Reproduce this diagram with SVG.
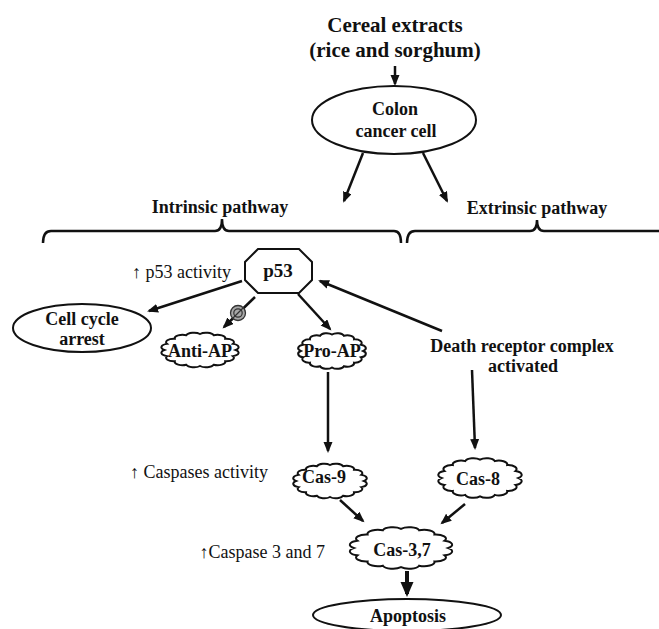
<svg xmlns="http://www.w3.org/2000/svg" width="659" height="629" viewBox="0 0 659 629">
<style>
text{font-family:"Liberation Serif","Times New Roman",serif;fill:#111}
.b{font-weight:bold;font-size:18px;text-anchor:middle}
.n{font-size:18px}
.shape{fill:#fff;stroke:#111;stroke-width:2}
.c{fill:none;stroke:#111;stroke-width:2.5}
.brace{fill:none;stroke:#111;stroke-width:2.5}
</style>
<defs>
<marker id="ah" markerUnits="userSpaceOnUse" markerWidth="12" markerHeight="10" refX="9" refY="4.5" orient="auto">
<path d="M0,0 L11,4.5 L0,9 Z" fill="#111"/>
</marker>
<marker id="ahb" markerUnits="userSpaceOnUse" markerWidth="16" markerHeight="14" refX="12" refY="6.5" orient="auto">
<path d="M0,0 L15,6.5 L0,13 Z" fill="#111"/>
</marker>
<path id="cloud" vector-effect="non-scaling-stroke" d="M50,0 A11,11 0 0 1 46.19,19.13 A11,11 0 0 1 35.36,35.36 A11,11 0 0 1 19.13,46.19 A11,11 0 0 1 0,50 A11,11 0 0 1 -19.13,46.19 A11,11 0 0 1 -35.36,35.36 A11,11 0 0 1 -46.19,19.13 A11,11 0 0 1 -50,0 A11,11 0 0 1 -46.19,-19.13 A11,11 0 0 1 -35.36,-35.36 A11,11 0 0 1 -19.13,-46.19 A11,11 0 0 1 0,-50 A11,11 0 0 1 19.13,-46.19 A11,11 0 0 1 35.36,-35.36 A11,11 0 0 1 46.19,-19.13 A11,11 0 0 1 50,0 Z"/>
</defs>

<g id="title">
<text class="b" x="395" y="32" style="font-size:21px">Cereal extracts</text>
<text class="b" x="395" y="57" style="font-size:21px">(rice and sorghum)</text>
</g>

<g id="colon">
<ellipse class="shape" cx="394" cy="120" rx="82" ry="34"/>
<text class="b" x="395" y="115">Colon</text>
<text class="b" x="396" y="137">cancer cell</text>
</g>

<g id="intrinsic">
<path class="brace" d="M43,243 Q43,231 51,231 L215,231 Q222,231 222,219 Q222,231 229,231 L394,231 Q401,231 401,243"/>
<text class="b" x="220" y="213">Intrinsic pathway</text>
</g>

<g id="extrinsic">
<path class="brace" d="M407,243 Q407,231 415,231 L530,231 Q537,231 537,220 Q537,231 544,231 L660,231"/>
<text class="b" x="537" y="214">Extrinsic pathway</text>
</g>

<g id="p53">
<polygon class="shape" points="258,249 299,249 312,262 312,280 299,293 258,293 245,280 245,262"/>
<text class="b" x="278" y="277" style="font-size:19px">p53</text>
</g>
<text class="n" x="132" y="278">↑ p53 activity</text>

<g id="cellcycle">
<ellipse class="shape" cx="82" cy="328" rx="69" ry="24"/>
<text class="b" x="82" y="325">Cell cycle</text>
<text class="b" x="82" y="345">arrest</text>
</g>

<g id="antiap">
<use href="#cloud" class="shape" transform="translate(200,350) scale(0.714,0.32)"/>
<text class="b" x="200" y="357">Anti-AP</text>
</g>

<g id="proap">
<use href="#cloud" class="shape" transform="translate(332,351) scale(0.625,0.33)"/>
<text class="b" x="332" y="357">Pro-AP</text>
</g>

<g id="death">
<text class="b" x="522" y="352">Death receptor complex</text>
<text class="b" x="523" y="372">activated</text>
</g>

<g id="cas9">
<use href="#cloud" class="shape" transform="translate(330,481) scale(0.68,0.32)"/>
<text class="b" x="324" y="483">Cas-9</text>
</g>
<text class="n" x="130" y="478">↑ Caspases activity</text>

<g id="cas8">
<use href="#cloud" class="shape" transform="translate(480,478) scale(0.77,0.366)"/>
<text class="b" x="478" y="485">Cas-8</text>
</g>

<g id="cas37">
<use href="#cloud" class="shape" transform="translate(401,548) scale(0.946,0.384)"/>
<text class="b" x="402" y="556">Cas-3,7</text>
</g>
<text class="n" x="325" y="558" text-anchor="end">↑Caspase 3 and 7</text>

<g id="apoptosis">
<ellipse class="shape" cx="407" cy="615" rx="94" ry="16"/>
<text class="b" x="408" y="622">Apoptosis</text>
</g>

<g id="connectors">
<line class="c" x1="395" y1="66" x2="395" y2="84" marker-end="url(#ah)"/>
<line class="c" x1="363" y1="153" x2="344" y2="201" marker-end="url(#ah)"/>
<line class="c" x1="423" y1="153" x2="447" y2="201" marker-end="url(#ah)"/>
<line class="c" x1="242" y1="281" x2="149" y2="311" marker-end="url(#ah)"/>
<line class="c" x1="255" y1="297" x2="224" y2="327" marker-end="url(#ah)"/>
<line class="c" x1="298" y1="294" x2="330" y2="329" marker-end="url(#ah)"/>
<line class="c" x1="442" y1="331" x2="320" y2="281" marker-end="url(#ah)"/>
<line class="c" x1="328" y1="372" x2="328" y2="451" marker-end="url(#ah)"/>
<line class="c" x1="472" y1="370" x2="475" y2="448" marker-end="url(#ah)"/>
<line class="c" x1="340" y1="500" x2="363" y2="521" marker-end="url(#ah)"/>
<line class="c" x1="465" y1="504" x2="442" y2="523" marker-end="url(#ah)"/>
<line class="c" x1="407" y1="571" x2="407" y2="594" style="stroke-width:4" marker-end="url(#ahb)"/>
</g>

<g id="inhibit">
<circle cx="238" cy="313" r="7.5" fill="#a8a8a8" stroke="#333" stroke-width="1.3"/>
<circle cx="238" cy="313" r="4.2" fill="none" stroke="#333" stroke-width="1.2"/>
<line x1="233" y1="318" x2="243" y2="308" stroke="#333" stroke-width="1.3"/>
</g>
</svg>
